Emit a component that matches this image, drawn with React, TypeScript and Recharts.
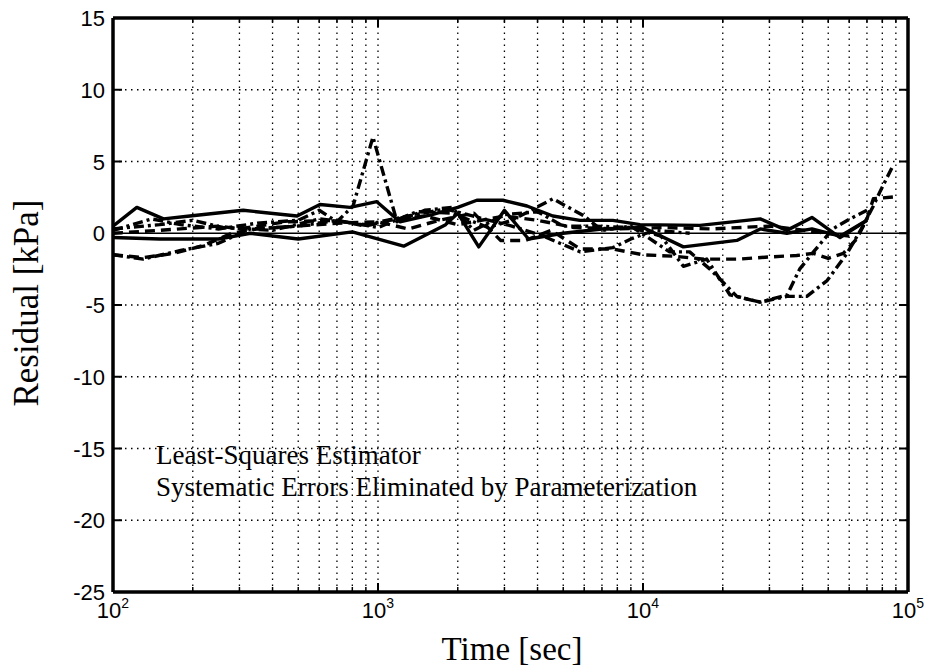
import React from 'react';
import { LineChart, Line, XAxis, YAxis, ReferenceLine, Customized } from 'recharts';

// ---- data (time in seconds, residual in kPa) ----
const solidUpper = [
  [100, 0.5], [123, 1.8], [155, 1.0], [195, 1.2], [310, 1.6], [495, 1.2], [604, 2.0], [784, 1.8],
  [990, 2.2], [1210, 0.8], [1600, 1.3], [2000, 1.8], [2360, 2.3], [2960, 2.3], [3650, 1.9],
  [4570, 1.2], [5780, 0.9], [7700, 0.9], [9740, 0.6], [16400, 0.55], [27700, 1.0], [34900, 0.2],
  [43400, 1.1], [55400, -0.3], [70000, 0.9],
];
const solidLower = [
  [100, -0.3], [150, -0.4], [250, -0.4], [330, 0.0], [500, -0.4], [800, 0.1], [1250, -0.9],
  [1450, -0.3], [1800, 0.6], [2000, 1.4], [2400, -0.95], [3000, 1.6], [3700, -0.4], [5000, 0.0],
  [7000, 0.3], [10000, 0.4], [14200, -0.95], [22600, -0.5], [27700, 0.3], [34900, 0.0],
  [43400, 0.3], [55400, -0.2], [70000, 0.9],
];
const dashedLower = [
  [100, -1.5], [130, -1.7], [170, -1.4], [220, -0.85], [280, 0.0], [350, 0.3], [500, 0.5],
  [700, 0.7], [1000, 0.8], [1300, 0.3], [1700, 0.9], [2300, 1.4], [2900, -0.5], [3600, -0.5],
  [4500, 0.2], [5800, -1.1], [7700, -1.1], [10000, -1.5], [13000, -1.6], [17000, -1.8],
  [23000, -1.8], [30000, -1.65], [38000, -1.55], [44000, -1.4], [50000, -1.75], [57000, -1.4],
  [64000, -0.4], [70000, 1.0], [74000, 2.4], [90000, 2.55],
];
const dashedUpper = [
  [100, 0.0], [150, 0.2], [250, 0.5], [300, 0.3], [450, 0.8], [700, 0.9], [900, 0.5], [1100, 0.9],
  [1500, 1.2], [2000, 0.6], [3000, 1.2], [4000, 0.9], [5500, 0.4], [8000, 0.3], [12000, 0.4],
  [18000, 0.3], [30000, 0.5], [45000, 0.1], [60000, -0.2],
];
const dashDotSpike = [
  [100, 0.2], [140, 1.0], [180, 0.6], [250, 0.3], [350, 0.7], [500, 0.9], [600, 1.6], [700, 0.8],
  [805, 1.9], [957, 6.7], [1180, 0.8], [1500, 1.6], [1900, 1.8], [2300, 0.2], [3000, 1.3],
  [4000, 1.5], [5000, 0.5], [6500, 0.5], [9000, 0.4], [11700, -0.2], [14200, -2.3], [17400, -1.8],
  [21300, -4.3], [27700, -4.8], [35000, -4.4], [41500, -4.4], [49500, -3.3], [58900, -1.4],
  [67600, 0.5], [74000, 1.9], [78400, 2.9], [87700, 4.7],
];
const dashDotEarly = [
  [100, -1.5], [130, -1.8], [180, -1.2], [250, -0.7], [330, 0.3], [500, 0.5], [700, 0.9],
  [1000, 0.4], [1400, 1.5], [1900, 1.4], [2600, 0.4], [3200, 0.9], [4570, 2.4], [6000, 1.2],
  [7000, 0.2], [9000, 0.5], [12600, -1.3], [15000, -1.3], [17900, -2.5], [22600, -4.4],
  [27700, -4.8], [35000, -4.3], [39000, -2.5], [44000, -1.3], [52000, 0.3], [60400, 1.0],
  [70000, 1.6],
];
const dashDotMid = [
  [100, 0.3], [150, 0.6], [200, 0.9], [260, 0.4], [400, 0.2], [600, 1.0], [900, 0.6], [1300, 1.2],
  [1800, 1.7], [2500, 1.0], [3200, 0.5], [4200, -0.2], [5800, -1.3], [7700, -1.0], [9000, -0.4],
  [11000, 0.2], [15000, 0.0],
];

const xTicks = [100, 1000, 10000, 100000];
const xMinorGrid = [200, 300, 400, 500, 600, 700, 800, 900, 2000, 3000, 4000, 5000, 6000, 7000, 8000, 9000,
  20000, 30000, 40000, 50000, 60000, 70000, 80000, 90000];
const xMajorGrid = [1000, 10000];
const yTicks = [-25, -20, -15, -10, -5, 0, 5, 10, 15];
const yGrid = [-20, -15, -10, -5, 5, 10];

const toPts = (arr: number[][]) => arr.map(([t, v]) => ({ t, v }));

const SERIES = [
  { name: 'solidUpper', data: toPts(solidUpper), dash: undefined },
  { name: 'solidLower', data: toPts(solidLower), dash: undefined },
  { name: 'dashedLower', data: toPts(dashedLower), dash: '10 6' },
  { name: 'dashedUpper', data: toPts(dashedUpper), dash: '10 6' },
  { name: 'dashDotSpike', data: toPts(dashDotSpike), dash: '10 4 3 4' },
  { name: 'dashDotEarly', data: toPts(dashDotEarly), dash: '10 4 3 4' },
  { name: 'dashDotMid', data: toPts(dashDotMid), dash: '10 4 3 4' },
];

const SANS = '"Liberation Sans", Arial, Helvetica, sans-serif';
const SERIF = '"Liberation Serif", "Times New Roman", serif';

const XTick = (props: any) => {
  const { x, payload } = props;
  const exp = Math.round(Math.log10(payload.value));
  return (
    <text x={x} y={618} textAnchor="middle" fontFamily={SANS} fontSize={22} fill="#000">
      <tspan>10</tspan>
      <tspan dy={-10} fontSize={14}>{exp}</tspan>
    </text>
  );
};

const YTick = (props: any) => {
  const { y, payload } = props;
  return (
    <text x={105} y={y + 8} textAnchor="end" fontFamily={SANS} fontSize={22} fill="#000">
      {payload.value}
    </text>
  );
};

const Texts = () => (
  <g>
    <text x={156} y={464} fontFamily={SERIF} fontSize={27} fill="#000">Least-Squares Estimator</text>
    <text x={156} y={496} fontFamily={SERIF} fontSize={27} fill="#000">
      Systematic Errors Eliminated by Parameterization
    </text>
    <text x={512} y={660} textAnchor="middle" fontFamily={SERIF} fontSize={33} fill="#000">Time [sec]</text>
    <text x={38} y={303} textAnchor="middle" fontFamily={SERIF} fontSize={35} fill="#000"
      transform="rotate(-90 38 303)">Residual [kPa]</text>
  </g>
);

const MAJ = 9 / 265; // tick length in decades
const yTickLenUnits = 9 / 14.35;
const yMinorLenUnits = 5 / 14.35;

export default function App() {
  return (
    <div style={{ position: 'absolute', left: 0, top: 0, background: '#fff' }}>
      <LineChart width={929} height={670} margin={{ top: 18, right: 21, bottom: 38, left: 50 }}>
        <XAxis type="number" dataKey="t" scale="log" domain={[100, 100000]} ticks={xTicks}
          allowDataOverflow axisLine={false} tickLine={false} tick={<XTick />} height={40} interval={0} />
        <YAxis type="number" dataKey="v" domain={[-25, 15]} ticks={yTicks} allowDataOverflow
          axisLine={false} tickLine={false} tick={<YTick />} width={63} interval={0} />
        {yGrid.map((v) => (
          <ReferenceLine key={'gy' + v} y={v} stroke="#000" strokeWidth={1.3} strokeDasharray="1.5 4.5" />
        ))}
        {xMinorGrid.concat(xMajorGrid).map((t) => (
          <ReferenceLine key={'gx' + t} x={t} stroke="#000" strokeWidth={1.3} strokeDasharray="1.5 4.5" />
        ))}
        <ReferenceLine y={0} stroke="#000" strokeWidth={1.6} />
        {yTicks.map((v) => (
          <ReferenceLine key={'tl' + v} segment={[{ x: 100, y: v }, { x: 100 * Math.pow(10, MAJ), y: v }]}
            stroke="#000" strokeWidth={2} />
        ))}
        {yTicks.map((v) => (
          <ReferenceLine key={'tr' + v} segment={[{ x: 100000 / Math.pow(10, MAJ), y: v }, { x: 100000, y: v }]}
            stroke="#000" strokeWidth={2} />
        ))}
        {xMajorGrid.map((t) => (
          <ReferenceLine key={'tb' + t} segment={[{ x: t, y: -25 }, { x: t, y: -25 + yTickLenUnits }]}
            stroke="#000" strokeWidth={2} />
        ))}
        {xMajorGrid.map((t) => (
          <ReferenceLine key={'tt' + t} segment={[{ x: t, y: 15 }, { x: t, y: 15 - yTickLenUnits }]}
            stroke="#000" strokeWidth={2} />
        ))}
        {xMinorGrid.map((t) => (
          <ReferenceLine key={'mb' + t} segment={[{ x: t, y: -25 }, { x: t, y: -25 + yMinorLenUnits }]}
            stroke="#000" strokeWidth={1.5} />
        ))}
        {xMinorGrid.map((t) => (
          <ReferenceLine key={'mt' + t} segment={[{ x: t, y: 15 }, { x: t, y: 15 - yMinorLenUnits }]}
            stroke="#000" strokeWidth={1.5} />
        ))}
        {SERIES.map((s) => (
          <Line key={s.name} data={s.data} dataKey="v" type="linear" stroke="#000" strokeWidth={3.4}
            strokeDasharray={s.dash} dot={false} isAnimationActive={false} strokeLinejoin="round" />
        ))}
        <ReferenceLine x={100} stroke="#000" strokeWidth={3.5} />
        <ReferenceLine x={100000} stroke="#000" strokeWidth={3.5} />
        <ReferenceLine y={15} stroke="#000" strokeWidth={3.5} />
        <ReferenceLine y={-25} stroke="#000" strokeWidth={3.5} />
        <Customized component={<Texts />} />
      </LineChart>
    </div>
  );
}
